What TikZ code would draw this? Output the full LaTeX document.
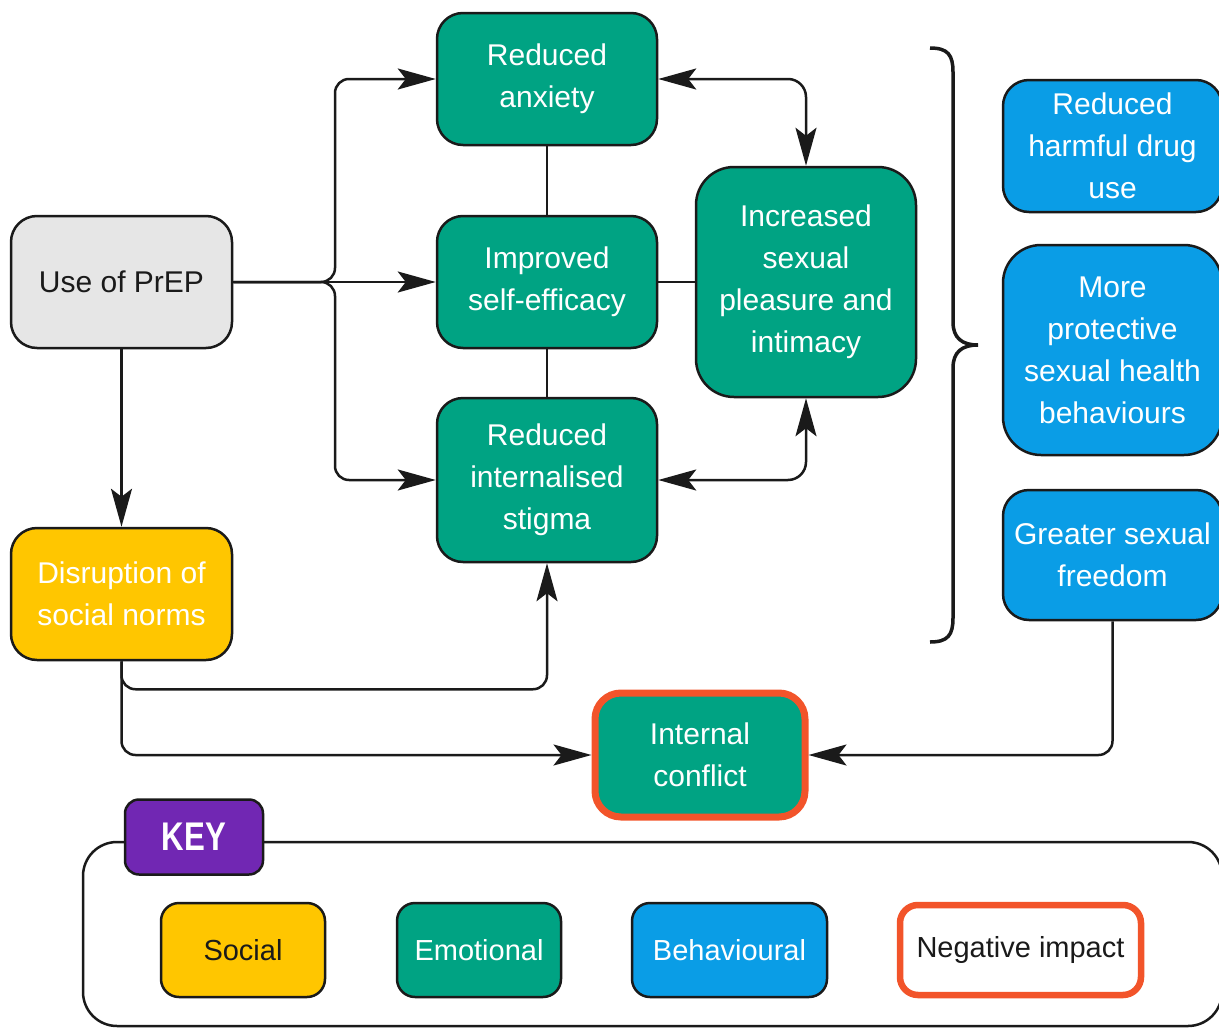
\documentclass[tikz,border=0pt]{standalone}
\usepackage{fontspec}
\setmainfont{Liberation Sans}
\newfontfamily\keyfont[FakeStretch=0.78]{Liberation Sans}
\usetikzlibrary{arrows.meta}
\definecolor{cgreen}{HTML}{00A383}
\definecolor{cblue}{HTML}{0A9DE6}
\definecolor{cyellow}{HTML}{FFC600}
\definecolor{cgrey}{HTML}{E6E6E6}
\definecolor{cpurple}{HTML}{7127B3}
\definecolor{cred}{HTML}{F2542A}
\definecolor{cline}{HTML}{1A1A1A}
\begin{document}
\begin{tikzpicture}[x=1pt,y=-1pt,
  box/.style={draw=cline,line width=2.5pt,rounded corners=26pt,inner sep=0pt,
    align=center,font=\fontsize{30}{42}\selectfont,text=white},
  emo/.style={box,fill=cgreen},
  beh/.style={box,fill=cblue},
  soc/.style={box,fill=cyellow},
  neu/.style={box,fill=cgrey,text=cline},
  negbox/.style={box,draw=cred,line width=6.5pt},
  keyitem/.style={box,rounded corners=18pt,font=\fontsize{29}{36}\selectfont},
  conn/.style={draw=cline,line width=2.5pt},
  tip/.tip={Stealth[length=38pt,width=21pt,inset=8pt]},
  arr/.style={conn,-tip},
  arrtwo/.style={conn,tip-tip},
]
\useasboundingbox (0,0) rectangle (1219,1028);

% nodes
\node[neu,minimum width=221pt,minimum height=132pt] (prep) at (121.5,282) {Use of PrEP};
\node[emo,minimum width=220pt,minimum height=132pt] (anx) at (547,79) {Reduced\\anxiety};
\node[emo,minimum width=220pt,minimum height=132pt] (eff) at (547,282) {Improved\\self-efficacy};
\node[emo,minimum width=220pt,minimum height=164pt] (stig) at (547,480) {Reduced\\internalised\\stigma};
\node[emo,minimum width=220pt,minimum height=230pt,rounded corners=38pt] (inc) at (806,282) {Increased\\sexual\\pleasure and\\intimacy};
\node[beh,minimum width=219pt,minimum height=132pt] (drug) at (1112.5,146) {Reduced\\harmful drug\\use};
\node[beh,minimum width=219pt,minimum height=210pt,rounded corners=38pt] (prot) at (1112.5,350) {More\\protective\\sexual health\\behaviours};
\node[beh,minimum width=219pt,minimum height=130pt] (free) at (1112.5,555) {Greater sexual\\freedom};
\node[soc,minimum width=221pt,minimum height=132pt] (disr) at (121.5,594) {Disruption of\\social norms};
\node[emo,draw=cred,line width=7pt,minimum width=210pt,minimum height=124pt] (conf) at (700,755) {Internal\\conflict};

% brace
\draw[cline,line width=3.5pt] (930,48) .. controls (948,48) and (953,55) .. (953,72) -- (953,322)
  .. controls (953,338) and (962,345) .. (978,345)
  .. controls (962,345) and (953,352) .. (953,368) -- (953,618)
  .. controls (953,635) and (948,642) .. (930,642);

% connectors
\coordinate (fork) at (335,282);
\draw[arr] (prep.east) -- (eff.west);
\draw[arr,rounded corners=14pt] (prep.east) -- (fork) |- (anx.west);
\draw[arr,rounded corners=14pt] (prep.east) -- (fork) |- (stig.west);
\draw[arrtwo,rounded corners=18pt] (anx.east) -| (inc.north);
\draw[arrtwo,rounded corners=18pt] (stig.east) -| (inc.south);
\draw[conn] (anx.south) -- (eff.north);
\draw[conn] (eff.south) -- (stig.north);
\draw[conn] (eff.east) -- (inc.west);
\draw[arr] (prep.south) -- (disr.north);
\draw[arr,rounded corners=14pt] (disr.south) -- ++(0,28) -| (stig.south);
\draw[arr,rounded corners=14pt] (disr.south) |- (conf.west);
\draw[arr,rounded corners=14pt] (free.south) |- (conf.east);

% key
\draw[cline,line width=2.5pt,rounded corners=34pt] (83,842) rectangle (1222,1026);
\node[box,fill=cpurple,rounded corners=14pt,minimum width=138pt,minimum height=75pt,
  font=\keyfont\fontsize{40}{40}\selectfont\bfseries] (key) at (194,837) {KEY};
\node[keyitem,soc,rounded corners=18pt,font=\fontsize{29}{36}\selectfont,text=cline,minimum width=164pt,minimum height=94pt] (ksoc) at (243,950) {Social};
\node[keyitem,emo,rounded corners=18pt,font=\fontsize{29}{36}\selectfont,minimum width=164pt,minimum height=94pt] (kemo) at (479,950) {Emotional};
\node[keyitem,beh,rounded corners=18pt,font=\fontsize{29}{36}\selectfont,minimum width=195pt,minimum height=94pt] (kbeh) at (729.5,950) {Behavioural};
\node[keyitem,negbox,fill=white,text=cline,rounded corners=18pt,font=\fontsize{29}{36}\selectfont,minimum width=241pt,minimum height=90pt] (kneg) at (1020.5,950) {Negative\strut{} impact};
\end{tikzpicture}
\end{document}
